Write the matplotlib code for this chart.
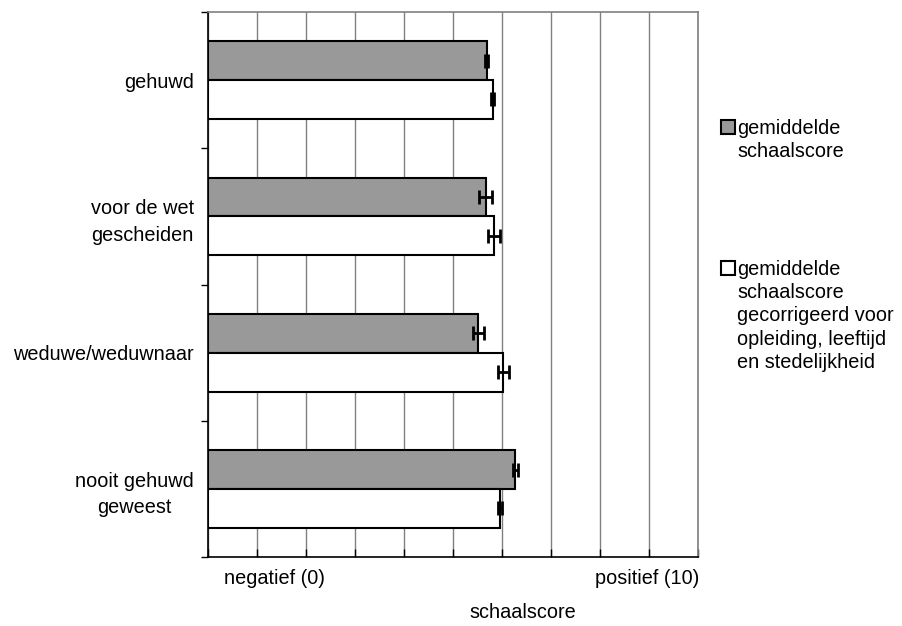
import matplotlib
matplotlib.use("Agg")
import matplotlib.pyplot as plt
import numpy as np
from matplotlib.patches import Rectangle

plt.rcParams['font.family'] = ['Liberation Sans', 'DejaVu Sans']

categories = ["gehuwd", "voor de wet\ngescheiden", "weduwe/weduwnaar", "nooit gehuwd\ngeweest"]
mean_score = [5.69, 5.67, 5.52, 6.27]
mean_err = [0.03, 0.13, 0.12, 0.05]
corrected_score = [5.81, 5.84, 6.03, 5.96]
corrected_err = [0.03, 0.125, 0.12, 0.05]
series_labels = ["gemiddelde\nschaalscore",
                 "gemiddelde\nschaalscore\ngecorrigeerd voor\nopleiding, leeftijd\nen stedelijkheid"]
series_colors = ['#999999', 'white']
x_labels = ["negatief (0)", "positief (10)"]
x_title = "schaalscore"

FS = 14.3
fig = plt.figure(figsize=(9.03, 6.26), dpi=100)
ax = fig.add_axes([0.2303, 0.110, 0.5427, 0.871])

y = np.arange(len(categories))
h = 0.285
ekw = dict(ecolor='black', elinewidth=2, capsize=4.8, capthick=2)
ax.barh(y - h / 2, mean_score, height=h, color=series_colors[0], edgecolor='black',
        linewidth=1.5, xerr=mean_err, error_kw=ekw, zorder=3)
ax.barh(y + h / 2, corrected_score, height=h, color=series_colors[1], edgecolor='black',
        linewidth=1.5, xerr=corrected_err, error_kw=ekw, zorder=3)

ax.set_xlim(0, 10)
ax.set_ylim(3.5, -0.5)

ax.set_xticks(np.arange(0, 11, 1))
ax.xaxis.grid(True, color='#808080', linewidth=1, zorder=0)
ax.tick_params(axis='x', direction='in', length=6, width=1, labelbottom=False)

ax.set_yticks(y)
ax.set_yticklabels(categories, fontsize=FS, multialignment='center', linespacing=1.5)
ax.tick_params(axis='y', length=0, pad=10)
ax.set_yticks(np.arange(-0.5, 4.0, 1.0), minor=True)
ax.tick_params(axis='y', which='minor', direction='out', length=5, width=1)

for s in ['top', 'right']:
    ax.spines[s].set_color('#808080')
    ax.spines[s].set_linewidth(1.2)
for s in ['left', 'bottom']:
    ax.spines[s].set_color('black')
    ax.spines[s].set_linewidth(1.2)

fig.text(274 / 903, 1 - 578 / 626, x_labels[0], ha='center', va='center', fontsize=FS)
fig.text(647 / 903, 1 - 578 / 626, x_labels[1], ha='center', va='center', fontsize=FS)
fig.text(523 / 903, 1 - 613 / 626, x_title, ha='center', va='center', fontsize=FS)

# legend drawn manually (square aligned to first text line)
W, H = 903, 626
for top, lab, col in zip([120, 261], series_labels, series_colors):
    fig.add_artist(Rectangle((721 / W, 1 - (top + 14) / H), 14 / W, 14 / H,
                             transform=fig.transFigure, facecolor=col,
                             edgecolor='black', linewidth=1.5))
    fig.text(737 / W, 1 - (top - 1) / H, lab, ha='left', va='top',
             fontsize=FS, linespacing=1.28)

fig.savefig("out.png", dpi=100)
